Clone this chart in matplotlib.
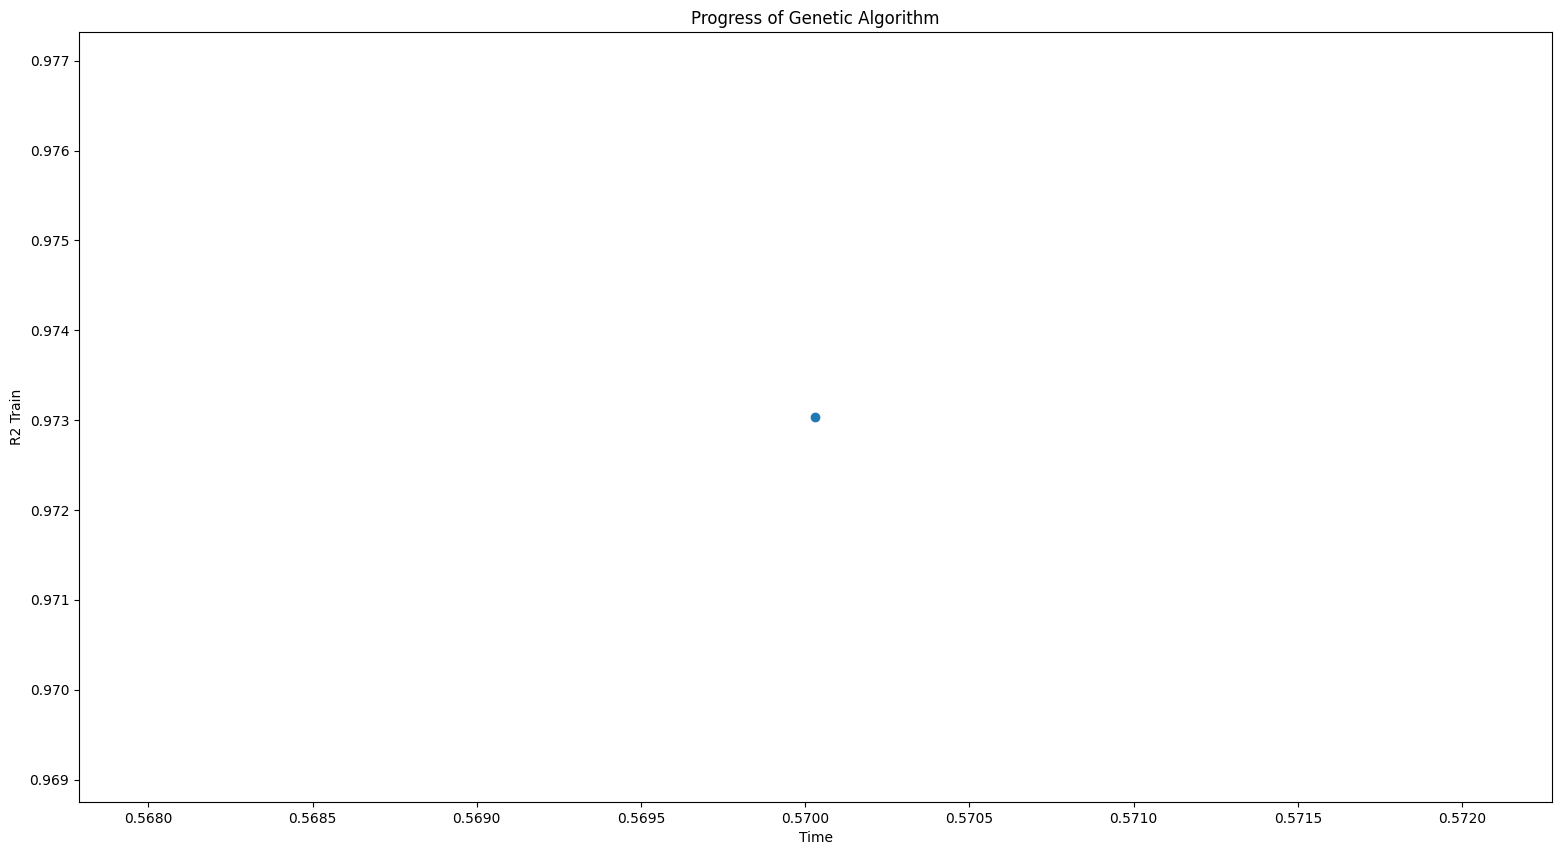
import matplotlib
matplotlib.use('Agg')
import matplotlib.pyplot as plt

# 유전 알고리즘 진행 데이터 (한 점)
time_values = [0.57003]
r2_train = [0.973036]

fig = plt.figure(figsize=(15.65, 8.55), dpi=100)
ax = fig.add_axes([0.0505, 0.062, 0.9412, 0.9006])

ax.scatter(time_values, r2_train)
ax.set_xlim(0.567789, 0.572274)
ax.set_ylim(0.968752, 0.977319)
ax.ticklabel_format(useOffset=False)

ax.set_title('Progress of Genetic Algorithm')
ax.set_xlabel('Time')
ax.set_ylabel('R2 Train')

fig.savefig('out.png', dpi=100)
